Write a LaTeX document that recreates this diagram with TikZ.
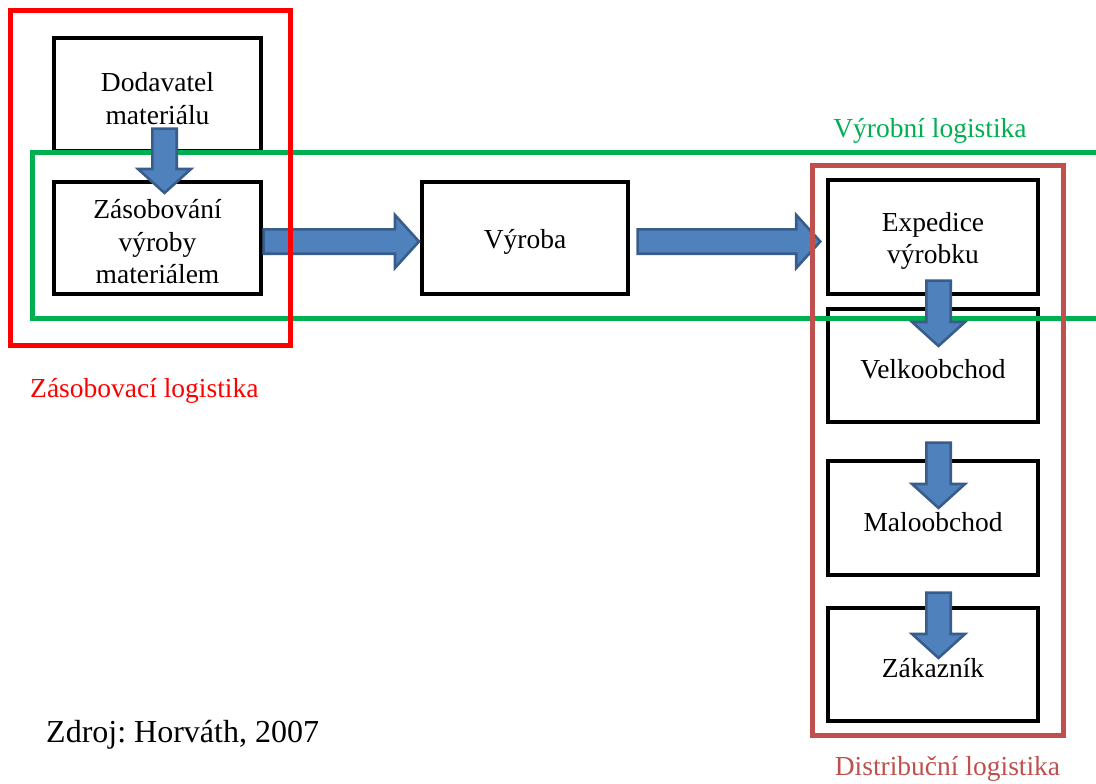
\documentclass[tikz,border=0pt]{standalone}
\usepackage{fontspec}
\setmainfont{Liberation Serif}
\usetikzlibrary{calc}
\frenchspacing

\definecolor{frgreen}{RGB}{0,176,80}
\definecolor{frred}{RGB}{255,0,0}
\definecolor{frbrown}{RGB}{192,80,77}
\definecolor{arrowfill}{RGB}{79,129,189}
\definecolor{arrowedge}{RGB}{56,93,138}

\newcommand{\bsw}{12.2pt}  % half width of the arrow shaft
\newcommand{\bhw}{26.5pt}  % half width of the arrow head
\newcommand{\bhl}{24pt}    % length of the arrow head

\tikzset{
  stagebox/.style={draw=black, line width=4.5pt, fill=white, inner sep=0pt},
  stagetext/.style={align=center, inner sep=0pt, yshift=-4pt,
    font=\fontsize{27.5}{32.5}\selectfont},
  framebox/.style={line width=5pt},
  framelabel/.style={anchor=base, inner sep=0pt, font=\fontsize{27.5}{32}\selectfont},
  blockarrow/.style={draw=arrowedge, fill=arrowfill, line width=2.6pt, line join=miter,
    to path={
      ($(\tikztostart)!\bsw!-90:(\tikztotarget)$)
      -- ($(\tikztotarget)!\bhl!(\tikztostart)!\bsw!-90:(\tikztotarget)$)
      -- ($(\tikztotarget)!\bhl!(\tikztostart)!\bhw!-90:(\tikztotarget)$)
      -- (\tikztotarget)
      -- ($(\tikztotarget)!\bhl!(\tikztostart)!\bhw!90:(\tikztotarget)$)
      -- ($(\tikztotarget)!\bhl!(\tikztostart)!\bsw!90:(\tikztotarget)$)
      -- ($(\tikztostart)!\bsw!90:(\tikztotarget)$)
      -- cycle}}
}

\begin{document}
\begin{tikzpicture}[x=1pt, y=-1pt]
  \useasboundingbox (0,0) rectangle (1096,784);
  \clip (0,0) rectangle (1096,784);

  % stages of the chain
  \node[stagebox, minimum width=207pt, minimum height=113pt,
        label={[stagetext]center:Dodavatel\\materiálu}] (dod) at (157.5,94.5) {};
  \node[stagebox, minimum width=207pt, minimum height=112pt,
        label={[stagetext]center:Zásobování\\výroby\\materiálem}] (zas) at (157.5,238) {};
  \node[stagebox, minimum width=206pt, minimum height=112pt,
        label={[stagetext]center:Výroba}] (vyr) at (525,238) {};
  \node[stagebox, minimum width=210pt, minimum height=114pt,
        label={[stagetext]center:Expedice\\výrobku}] (exp) at (933,237) {};
  \node[stagebox, minimum width=210pt, minimum height=113pt,
        label={[stagetext]center:Velkoobchod}] (vel) at (933,365.5) {};
  \node[stagebox, minimum width=210pt, minimum height=114pt,
        label={[stagetext]center:Maloobchod}] (mal) at (933,518) {};
  \node[stagebox, minimum width=210pt, minimum height=113pt,
        label={[stagetext]center:Zákazník}] (zak) at (933,664.5) {};

  % production logistics band, open to the right
  \coordinate (gtr) at (1110,152.5);
  \coordinate (gbr) at (1110,318);
  \draw[framebox, draw=frgreen] (gtr) -- (32.5,152.5) -- (32.5,318) -- (gbr);

  % flow arrows
  \draw[blockarrow] ($(dod.south)+(7,-24.7)$) to ($(zas.north)+(7,13.2)$);
  \draw[blockarrow] ($(zas.east)+(0.3,3.5)$) to ($(vyr.west)+(-0.8,3.5)$);
  \draw[blockarrow] ($(vyr.east)+(7.3,3.5)$) to ($(exp.west)+(-5.5,4.5)$);
  \draw[blockarrow] ($(exp.south)+(5.5,-15.7)$) to ($(vel.north)+(5.5,39.2)$);
  \draw[blockarrow] ($(vel.south)+(5.5,18.3)$) to ($(mal.north)+(5.5,49.2)$);
  \draw[blockarrow] ($(mal.south)+(5.5,15.3)$) to ($(zak.north)+(5.5,52.2)$);

  % supply and distribution frames
  \draw[framebox, draw=frred] (10.5,10.5) rectangle (290,345.5);
  \draw[framebox, draw=frbrown] (812.5,165) rectangle (1063.5,735.5);

  % frame labels
  \node[framelabel, text=frgreen] (lvyr) at (930,137) {Výrobní logistika};
  \node[framelabel, text=frred, anchor=base west] (lzas) at (30,397) {Zásobovací logistika};
  \node[framelabel, text=frbrown] (ldis) at (947.5,775) {Distribuční logistika};

  % source
  \node[anchor=base west, inner sep=0pt, font=\fontsize{32}{38}\selectfont] (zdroj) at (46,742) {Zdroj: Horváth, 2007};
\end{tikzpicture}
\end{document}
